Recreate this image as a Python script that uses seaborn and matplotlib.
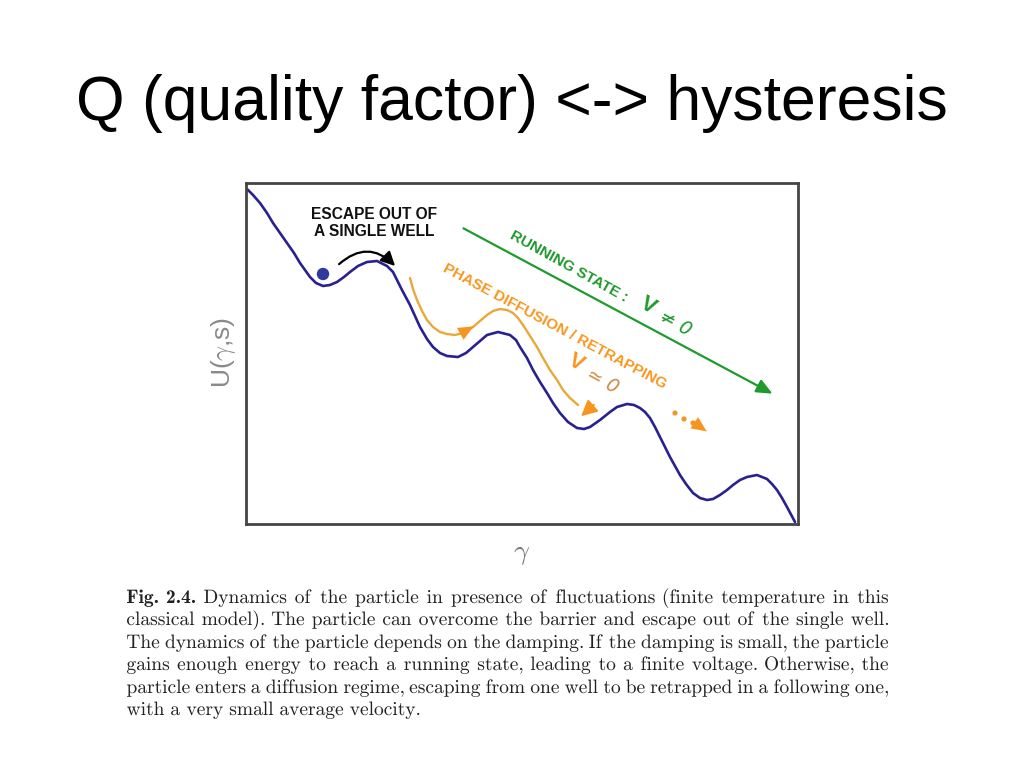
import matplotlib
matplotlib.use("Agg")
import matplotlib.pyplot as plt
import seaborn as sns
import pandas as pd
from matplotlib.textpath import TextPath
from matplotlib.patches import PathPatch
from matplotlib.font_manager import FontProperties
from matplotlib.transforms import Affine2D

# tilted washboard potential
gamma = [0.1, 0.7, 1.4, 2.1, 2.7, 3.4, 4.1, 4.8, 5.4, 5.9, 6.4, 7.0, 7.7, 8.4, 9.1,
         9.8, 10.4, 11.2, 12.1, 13.1, 14.1, 14.7, 15.1, 15.6, 16.4, 16.9, 17.4, 18.1,
         18.7, 19.4, 20.1, 21.2, 22.0, 22.7, 23.4, 24.1, 25.2, 26.4, 27.0, 27.4, 28.1,
         28.7, 29.4, 30.1, 30.7, 31.4, 32.2, 33.1, 33.8, 34.4, 35.4, 36.4, 37.1, 38.1,
         38.8, 39.4, 39.9, 40.4, 40.9, 41.4, 41.9, 42.4, 42.9, 43.4, 44.0, 44.7, 45.4,
         46.1, 46.7, 47.4, 48.1, 48.7, 49.4, 50.1, 51.1, 52.1, 52.6, 53.1, 53.6, 54.1, 54.9]
potential = [33.5, 32.9, 32.1, 31.1, 30.1, 29.1, 28.1, 27.1, 26.1, 25.4, 24.7, 24.1, 23.8,
             23.9, 24.2, 24.7, 25.2, 25.8, 26.2, 26.3, 25.8, 25.2, 24.4, 23.4, 21.9, 20.8,
             19.7, 18.5, 17.7, 17.1, 16.8, 16.7, 17.1, 17.7, 18.3, 18.9, 19.2, 18.9, 18.4,
             17.7, 16.6, 15.4, 14.2, 13.1, 12.1, 11.1, 10.2, 9.6, 9.5, 9.7, 10.4, 11.2, 11.7,
             12.0, 11.9, 11.6, 11.2, 10.6, 9.7, 8.7, 7.7, 6.7, 5.8, 4.9, 4.0, 3.1, 2.6, 2.4,
             2.5, 2.9, 3.4, 3.9, 4.4, 4.7, 4.9, 4.5, 4.0, 3.4, 2.6, 1.7, 0.2]

# phase diffusion / retrapping path
gamma_diff = [16.4, 16.7, 17.1, 17.6, 18.1, 18.7, 19.4, 20.1, 20.9, 21.7, 22.7, 23.4, 24.1,
              24.7, 25.4, 26.1, 26.7, 27.2, 27.7, 28.4, 29.1, 29.7, 30.4, 31.1, 31.7, 32.4, 33.2]
u_diff = [24.6, 23.5, 22.4, 21.3, 20.4, 19.7, 19.2, 19.0, 18.9, 19.1, 19.7, 20.3, 20.9,
          21.3, 21.5, 21.4, 21.1, 20.6, 19.9, 18.8, 17.7, 16.6, 15.4, 14.4, 13.4, 12.6, 11.9]

# particle and the dotted continuation
particle = (7.7, 25.0)
dots_gamma = [42.9, 43.8, 44.7]
dots_u = [11.1, 10.5, 10.1]

caption_lines = [
    "Fig. 2.4. Dynamics of the particle in presence of fluctuations (finite temperature in this",
    "classical model). The particle can overcome the barrier and escape out of the single well.",
    "The dynamics of the particle depends on the damping. If the damping is small, the particle",
    "gains enough energy to reach a running state, leading to a finite voltage. Otherwise, the",
    "particle enters a diffusion regime, escaping from one well to be retrapped in a following one,",
    "with a very small average velocity.",
]

NAVY = "#28218f"
GREEN = "#1f9a2c"
ORANGE_LINE = "#e8a93a"
ORANGE = "#f7961f"

sns.set_theme(style="white")
plt.rcParams["font.family"] = ["Liberation Sans", "DejaVu Sans"]
plt.rcParams["mathtext.fontset"] = "cm"

fig = plt.figure(figsize=(10.24, 7.68), dpi=100)
ax = fig.add_axes([246 / 1024, 1 - 524 / 768, 552 / 1024, 341 / 768])

df = pd.DataFrame({"gamma": gamma, "U": potential})
sns.lineplot(data=df, x="gamma", y="U", ax=ax, color=NAVY, lw=1.9, sort=False)
ddf = pd.DataFrame({"gamma": gamma_diff, "U": u_diff})
sns.lineplot(data=ddf, x="gamma", y="U", ax=ax, color=ORANGE_LINE, lw=1.7, sort=False)
sns.scatterplot(x=[particle[0]], y=[particle[1]], ax=ax, color="#2e3a9c", s=80,
                edgecolor="none", zorder=5)
sns.scatterplot(x=dots_gamma, y=dots_u, ax=ax, color=ORANGE, s=14, edgecolor="none")

ax.set_xlim(0, 55.2)
ax.set_ylim(0, 34.1)
ax.set_xticks([])
ax.set_yticks([])
ax.set_xlabel("")
ax.set_ylabel("")
for sp in ax.spines.values():
    sp.set_color("#454545")
    sp.set_linewidth(2)

# arrows
ax.annotate("", xy=(15.1, 25.6), xytext=(9.1, 25.8),
            arrowprops=dict(arrowstyle="-|>,head_length=0.7,head_width=0.35", color="black",
                            lw=1.6, connectionstyle="arc3,rad=-0.5"))
ax.annotate("", xy=(52.9, 12.9), xytext=(21.5, 29.7),
            arrowprops=dict(arrowstyle="-|>,head_length=0.8,head_width=0.35", color=GREEN, lw=1.6))
ax.annotate("", xy=(23.0, 19.9), xytext=(21.4, 19.0),
            arrowprops=dict(arrowstyle="-|>,head_length=0.9,head_width=0.4", color=ORANGE, lw=0.1))
ax.annotate("", xy=(33.3, 10.6), xytext=(35.0, 12.1),
            arrowprops=dict(arrowstyle="-|>,head_length=0.8,head_width=0.4", color=ORANGE, lw=1.4))
ax.annotate("", xy=(46.3, 9.1), xytext=(45.0, 10.0),
            arrowprops=dict(arrowstyle="-|>,head_length=0.9,head_width=0.4", color=ORANGE, lw=0.1))

# labels inside the plot
ax.text(12.8, 30.1, "ESCAPE OUT OF\nA SINGLE WELL", ha="center", va="center",
        fontsize=11.2, fontweight="bold", color="#111111", linespacing=1.1)
ax.text(32.3, 25.7, "RUNNING STATE :", ha="center", va="center", rotation=-29,
        rotation_mode="anchor", fontsize=11, fontweight="bold", color=GREEN)
ax.text(40.2, 21.8, "V", ha="center", va="center", rotation=-29, rotation_mode="anchor",
        fontsize=16, fontweight="bold", color=GREEN)
ax.text(42.9, 20.1, "\u2260 0", ha="center", va="center", rotation=-29, rotation_mode="anchor",
        fontsize=13.5, color=GREEN, family=["DejaVu Sans"], style="italic")
ax.text(30.9, 19.8, "PHASE DIFFUSION / RETRAPPING", ha="center", va="center", rotation=-28,
        rotation_mode="anchor", fontsize=11, fontweight="bold", color=ORANGE)
ax.text(33.0, 16.1, "V", ha="center", va="center", rotation=-28, rotation_mode="anchor",
        fontsize=16, fontweight="bold", color=ORANGE)
ax.text(35.6, 14.3, "\u2243 0", ha="center", va="center", rotation=-28, rotation_mode="anchor",
        fontsize=13.5, color="#d08a40", family=["DejaVu Sans"], style="italic")

# axis labels
fig.text(223 / 1024, 1 - 352 / 768, r"U($\gamma$,s)", rotation=90, ha="center", va="center",
         fontsize=19, color="#8a8a8a")
fig.text(522 / 1024, 1 - 554 / 768, r"$\gamma$", ha="center", va="center",
         fontsize=20, color="#777777")

# slide title
fig.text(512 / 1024, 1 - 120 / 768, "Q (quality factor) <-> hysteresis", ha="center",
         va="baseline", fontsize=45, color="black")

# justified caption, words drawn as paths so every word sits on the same baseline
left_px, right_px = 127, 888
baselines = [603, 625, 648, 670, 693, 715]
cap_px = 14.0 * 100 / 72
prop_r = FontProperties(family="cmr10")
prop_b = FontProperties(family="cmb10")
for i, line in enumerate(caption_lines):
    words = line.split(" ")
    paths = []
    for j, w in enumerate(words):
        prop = prop_b if (i == 0 and j < 2) else prop_r
        paths.append(TextPath((0, 0), w, size=cap_px, prop=prop))
    exts = [p.get_extents() for p in paths]
    widths = [e.x1 - e.x0 for e in exts]
    if i < len(caption_lines) - 1:
        gap = (right_px - left_px - sum(widths)) / (len(words) - 1)
    else:
        gap = 0.36 * cap_px
    x = left_px
    y = 768 - baselines[i]
    for p, e, w in zip(paths, exts, widths):
        patch = PathPatch(p, facecolor="#222222", edgecolor="none", lw=0,
                          transform=Affine2D().translate(x - e.x0, y))
        fig.add_artist(patch)
        x += w + gap

fig.savefig("out.png", dpi=100, facecolor="white")
